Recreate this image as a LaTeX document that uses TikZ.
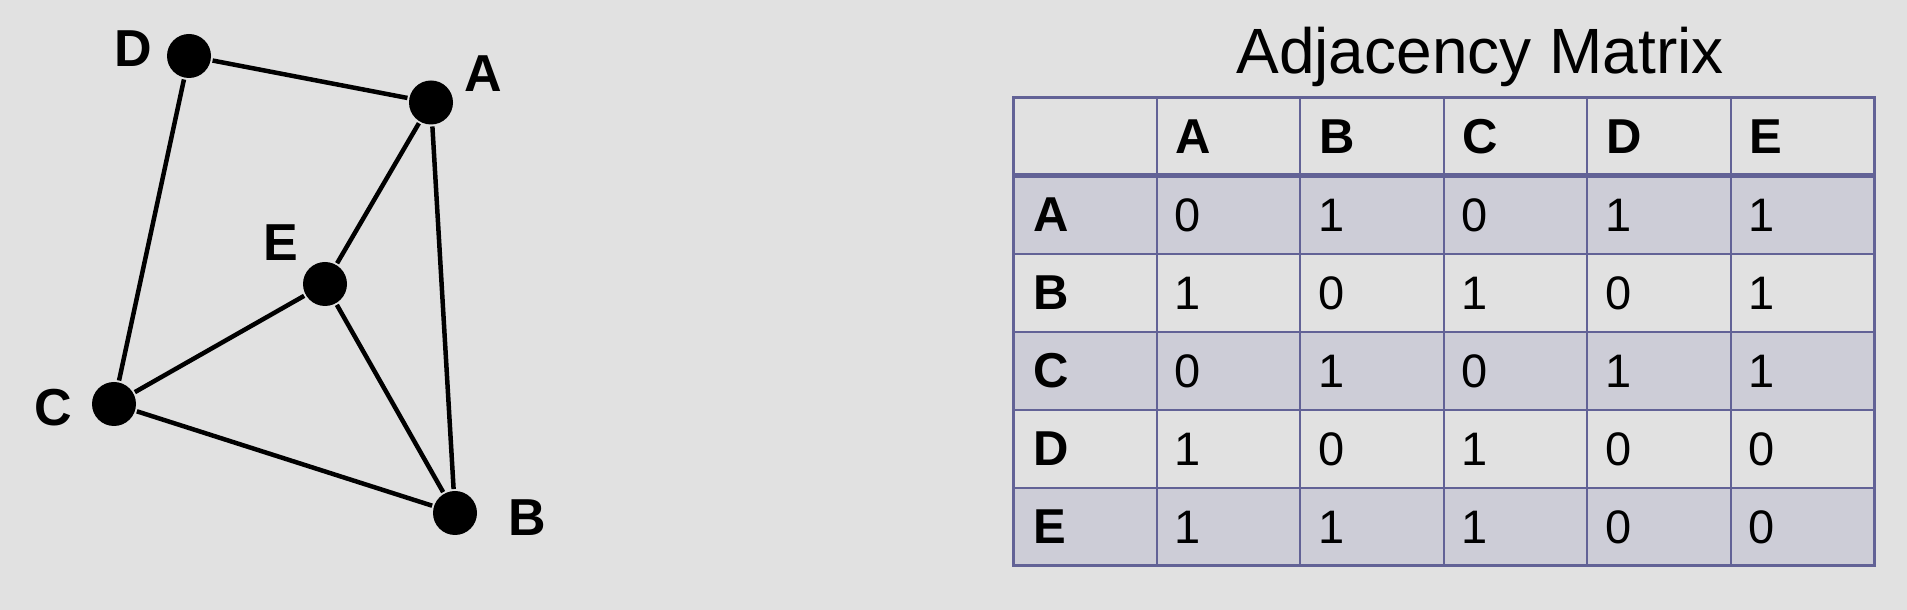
\documentclass[tikz,border=0pt]{standalone}
\usepackage{fontspec}
\setmainfont{Liberation Sans}
\usepackage{tikz}
\usetikzlibrary{positioning}
\definecolor{slidegray}{RGB}{225,225,225}
\definecolor{rowshade}{RGB}{205,205,215}
\definecolor{gridblue}{RGB}{98,98,150}

\begin{document}
\begin{tikzpicture}[
  x=0.5pt,y=0.5pt,
  vertex/.style={circle,fill=black,inner sep=0pt,minimum size=22pt,outer sep=1pt},
  vname/.style={inner sep=0pt,font=\fontsize{26}{30}\selectfont\bfseries},
  edge/.style={line width=2.25pt,black},
  head/.style={anchor=west,inner sep=0pt,font=\fontsize{24.5}{28}\selectfont\bfseries},
  entry/.style={anchor=west,inner sep=0pt,font=\fontsize{23.5}{28}\selectfont},
  gridline/.style={gridblue,line width=1pt}
]
\fill[slidegray] (0,0) rectangle (1907,610);
\useasboundingbox (0,0) rectangle (1907,610);

% graph
\node[vertex] (A) at (431,507.5) {};
\node[vertex] (B) at (455,97) {};
\node[vertex] (C) at (114,206) {};
\node[vertex] (D) at (189,554) {};
\node[vertex] (E) at (325,326) {};
\node[vname] (labA) at (483,536) {A};
\node[vname] (labB) at (527,92) {B};
\node[vname] (labC) at (53,202) {C};
\node[vname] (labD) at (133,561) {D};
\node[vname] (labE) at (281,367) {E};
\draw[edge] (D) -- (A);
\draw[edge] (D) -- (C);
\draw[edge] (A) -- (E);
\draw[edge] (A) -- (B);
\draw[edge] (E) -- (C);
\draw[edge] (E) -- (B);
\draw[edge] (C) -- (B);

% adjacency matrix
\node[anchor=base,inner sep=0pt,font=\fontsize{32}{38}\selectfont] (title) at (1480,536) {Adjacency Matrix};
\foreach \r in {1,3,5}
  \fill[rowshade] (1013,{512-78*\r}) rectangle (1874,{434-78*\r});
\foreach \k in {1,...,5}
  \draw[gridline] ({1013+143.5*\k},512) -- ({1013+143.5*\k},44);
\foreach \r in {2,...,5}
  \draw[gridline] (1013,{512-78*\r}) -- (1874,{512-78*\r});
\draw[gridblue,line width=2.5pt] (1013,434) -- (1874,434);
\draw[gridblue,line width=1.5pt] (1013,44) rectangle (1874,512);

\foreach \n [count=\k] in {A,B,C,D,E}
  \node[head] (col\n) at ({1013+143.5*\k+19},473) {\n};
\foreach \n/\vals [count=\r] in {A/{0,1,0,1,1},B/{1,0,1,0,1},C/{0,1,0,1,1},D/{1,0,1,0,0},E/{1,1,1,0,0}}{
  \node[head] (row\n) at (1033,{473-78*\r}) {\n};
  \foreach \v [count=\k] in \vals
    \node[entry] (m\n\k) at ({1013+143.5*\k+18},{473-78*\r}) {\v};
}
\end{tikzpicture}
\end{document}
